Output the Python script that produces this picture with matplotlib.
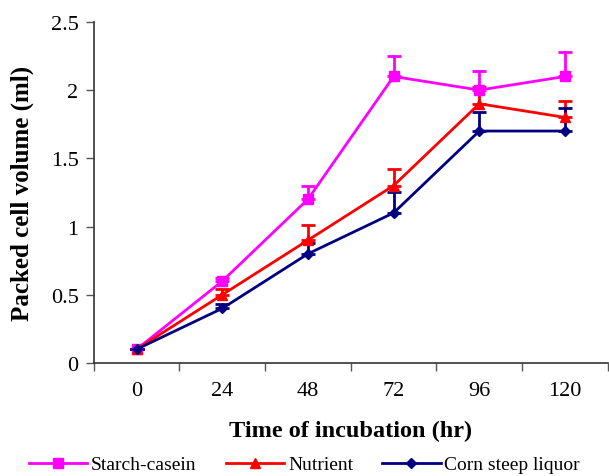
import matplotlib.pyplot as plt
from matplotlib.lines import Line2D
import numpy as np

hours = ['0', '24', '48', '72', '96', '120']
starch = [0.1, 0.6, 1.2, 2.1, 2.0, 2.1]
starch_err = [0.0, 0.02, 0.1, 0.15, 0.14, 0.18]
nutrient = [0.1, 0.5, 0.9, 1.3, 1.9, 1.8]
nutrient_err = [0.0, 0.04, 0.11, 0.12, 0.12, 0.12]
corn = [0.1, 0.4, 0.8, 1.1, 1.7, 1.7]
corn_err = [0.0, 0.03, 0.08, 0.15, 0.14, 0.17]

plt.rcParams['font.family'] = ['Liberation Serif', 'DejaVu Serif']

fig = plt.figure(figsize=(6.09, 4.77), dpi=100)
ax = fig.add_axes([0.154, 0.237, 0.844, 0.715])

x = np.arange(len(hours))
series = [
    ('Starch-casein', starch, starch_err, '#FF00FF', 's', 7),
    ('Nutrient', nutrient, nutrient_err, '#FF0000', '^', 7),
    ('Corn steep liquor', corn, corn_err, '#000080', 'D', 5.5),
]
handles = []
for name, vals, err, col, mk, ms in series:
    ax.errorbar(x, vals, yerr=[np.zeros(len(err)), err], color=col,
                marker=mk, markersize=ms, linewidth=2, elinewidth=2,
                capsize=5, capthick=2)
    handles.append(Line2D([], [], color=col, marker=mk, markersize=ms, linewidth=2))

ax.set_xlim(-0.5, 5.5)
ax.set_ylim(0, 2.5)
ax.set_xticks(np.arange(-0.5, 6.0, 1.0))
ax.set_xticklabels([])
ax.set_xticks(x, minor=True)
ax.set_xticklabels(hours, minor=True, fontsize=16)
ax.tick_params(axis='x', which='minor', length=0, pad=13)
ax.tick_params(axis='x', which='major', length=6, direction='out', width=1, color='#555555')
ax.set_yticks([0, 0.5, 1, 1.5, 2, 2.5])
ax.set_yticklabels(['0', '0.5', '1', '1.5', '2', '2.5'], fontsize=16)
ax.tick_params(axis='y', length=6, direction='out', width=1, color='#555555', pad=5)

for s in ['top', 'right']:
    ax.spines[s].set_visible(False)
for s in ['left', 'bottom']:
    ax.spines[s].set_color('#333333')
    ax.spines[s].set_linewidth(1.2)

ax.set_xlabel('Time of incubation (hr)', fontsize=17.5, fontweight='bold', labelpad=14)
ax.set_ylabel('Packed cell volume (ml)', fontsize=18, fontweight='bold', labelpad=12)

fig.legend(handles, [s[0] for s in series], loc='center', bbox_to_anchor=(0.5, 0.024),
           ncol=3, frameon=False, fontsize=14, handlelength=3, columnspacing=1.5,
           handletextpad=0.2)

fig.savefig('out.png', dpi=100)
